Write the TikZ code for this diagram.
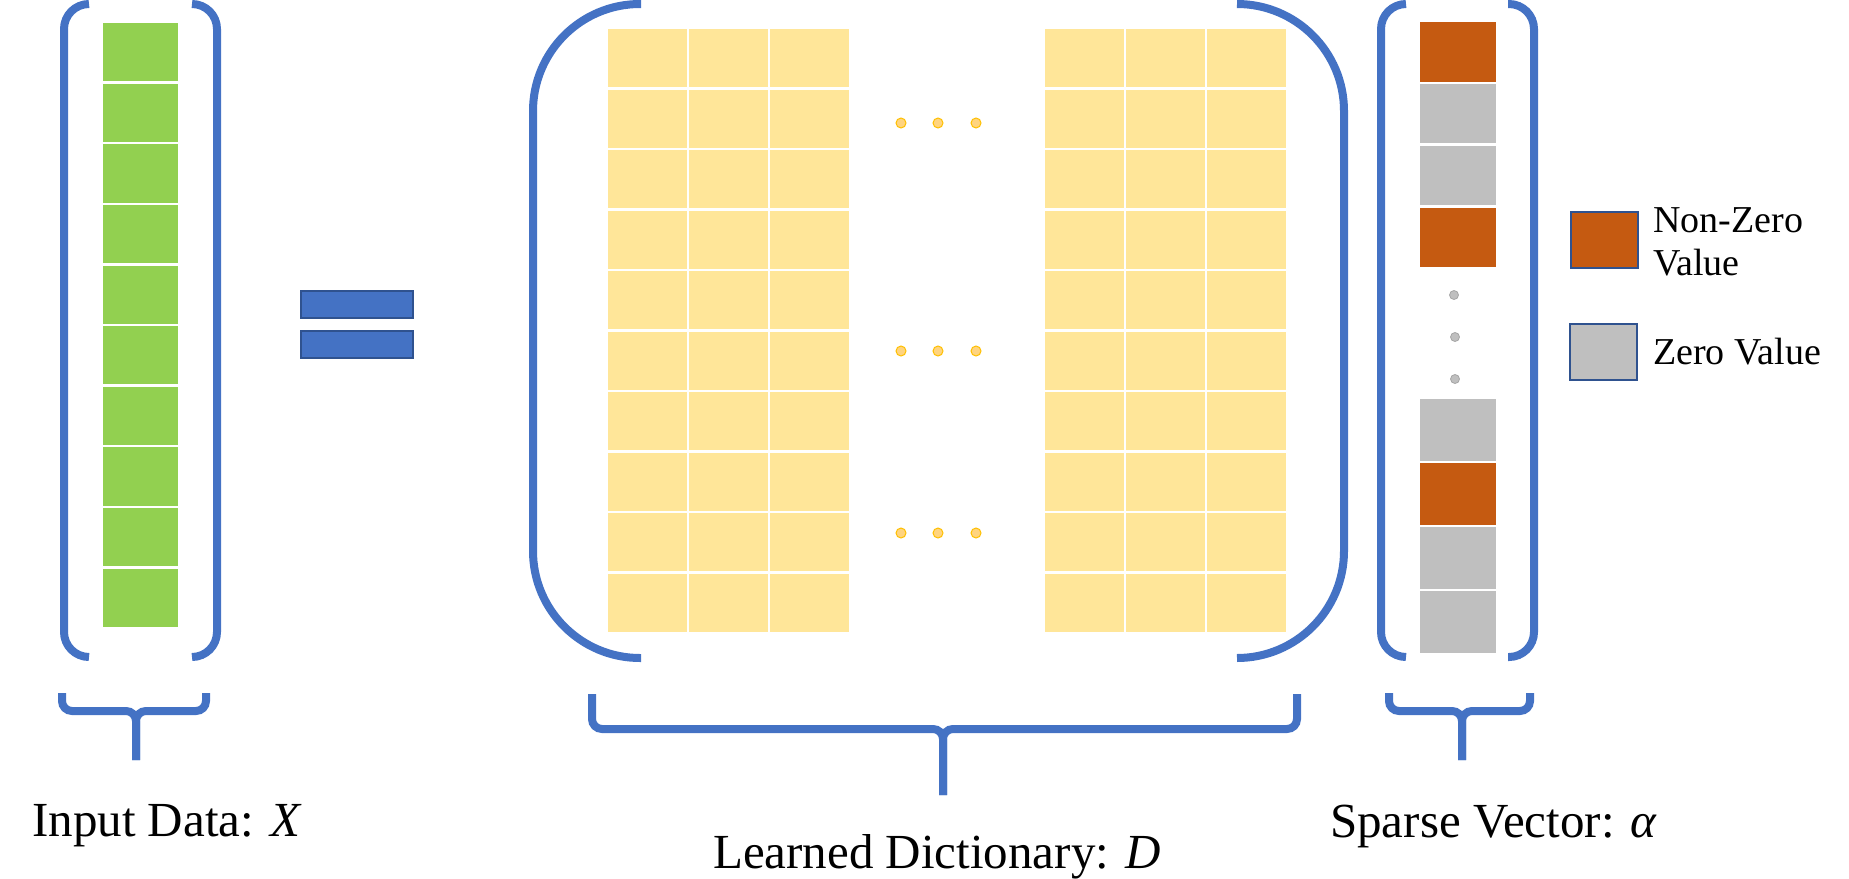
\documentclass[tikz,border=0pt]{standalone}
\usepackage{fontspec}
\setmainfont{Liberation Serif}
\definecolor{brk}{HTML}{4472C4}
\definecolor{brkdark}{HTML}{2F528F}
\definecolor{greencell}{HTML}{92D050}
\definecolor{yellowcell}{HTML}{FFE699}
\definecolor{orangecell}{HTML}{C55A11}
\definecolor{graycell}{HTML}{BFBFBF}
\definecolor{graydot}{HTML}{A6A6A6}
\definecolor{yeldot}{HTML}{FFD47F}
\definecolor{yeldotb}{HTML}{FFC000}
\tikzset{
  bracket/.style={draw=brk, line width=8pt},
  ubrace/.style={draw=brk, line width=8pt, rounded corners=10pt},
  cellg/.style={fill=greencell, draw=white, line width=2.5pt},
  celly/.style={fill=yellowcell, draw=white, line width=2.5pt},
  cello/.style={fill=orangecell, draw=white, line width=2.5pt},
  cellz/.style={fill=graycell, draw=white, line width=2.5pt},
  lego/.style={fill=orangecell, draw=brkdark, line width=1.8pt},
  legz/.style={fill=graycell, draw=brkdark, line width=1.8pt},
  gdot/.style={circle, fill=graycell, draw=graydot, line width=0.8pt, inner sep=0pt, minimum size=9pt},
  ydot/.style={circle, fill=yeldot, draw=yeldotb, line width=1pt, inner sep=0pt, minimum size=10pt},
  lbl/.style={font=\fontsize{49}{58}\selectfont, inner sep=0pt, anchor=base west},
  leg/.style={font=\fontsize{38}{44}\selectfont, inner sep=0pt, anchor=base west},
  eqbar/.style={fill=brk, draw=brkdark, line width=1.5pt}
}
\begin{document}
\begin{tikzpicture}[x=1pt, y=-1pt]
\useasboundingbox (0,0) rectangle (1849,878);
% ---------- input column ----------
\foreach \i in {0,...,9} {
  \path[cellg] (102,{22+60.6*\i}) rectangle (179,{22+60.6*(\i+1)});
}
\draw[bracket, rounded corners=25pt] (89,4) -- (64,4) -- (64,657) -- (89,657);
\draw[bracket, rounded corners=25pt] (192,4) -- (217,4) -- (217,657) -- (192,657);
% ---------- equals sign ----------
\path[eqbar] (301,291) rectangle (413,318);
\path[eqbar] (301,331) rectangle (413,358);
% ---------- dictionary ----------
\foreach \bx in {607,1044} {
  \foreach \c in {0,1,2} {
    \foreach \r in {0,...,9} {
      \path[celly] ({\bx+81*\c},{28+60.5*\r}) rectangle ({\bx+81*(\c+1)},{28+60.5*(\r+1)});
    }
  }
}
\draw[bracket, rounded corners=107pt] (641,4) -- (533,4) -- (533,658) -- (641,658);
\draw[bracket, rounded corners=107pt] (1237,4) -- (1344,4) -- (1344,658) -- (1237,658);
\foreach \yy [count=\k] in {123,351,533} {
  \node[ydot] (dA\k) at (901,\yy) {};
  \node[ydot] (dB\k) at (938,\yy) {};
  \node[ydot] (dC\k) at (976,\yy) {};
}
% ---------- sparse vector ----------
\path[cello] (1419,21) rectangle (1497,82.75);
\path[cellz] (1419,82.75) rectangle (1497,144.5);
\path[cellz] (1419,144.5) rectangle (1497,206.25);
\path[cello] (1419,206.25) rectangle (1497,268);
\path[cellz] (1419,398) rectangle (1497,462);
\path[cello] (1419,462) rectangle (1497,526);
\path[cellz] (1419,526) rectangle (1497,590);
\path[cellz] (1419,590) rectangle (1497,654);
\node[gdot] (s1) at (1454,295) {};
\node[gdot] (s2) at (1455,337) {};
\node[gdot] (s3) at (1455,379) {};
\draw[bracket, rounded corners=25pt] (1406,4) -- (1381,4) -- (1381,657) -- (1406,657);
\draw[bracket, rounded corners=25pt] (1508,4) -- (1534,4) -- (1534,657) -- (1508,657);
% ---------- legend ----------
\path[lego] (1571,212) rectangle (1638,268);
\path[legz] (1570,324) rectangle (1637,380);
\node[leg] (l1) at (1653,232) {Non-Zero};
\node[leg] (l2) at (1653,275) {Value};
\node[leg] (l3) at (1653,364) {Zero Value};
% ---------- under braces ----------
\draw[ubrace] (62,693) -- (62,711) -- (136,711) -- (136,760);
\draw[ubrace] (206,693) -- (206,711) -- (136,711) -- (136,760);
\draw[ubrace] (592,694) -- (592,729) -- (943,729) -- (943,795);
\draw[ubrace] (1297,694) -- (1297,729) -- (943,729) -- (943,795);
\draw[ubrace] (1389,693) -- (1389,711) -- (1462,711) -- (1462,760);
\draw[ubrace] (1530,693) -- (1530,711) -- (1462,711) -- (1462,760);
% ---------- labels ----------
\node[lbl] (tX) at (32,836) {Input Data: \textit{X}};
\node[lbl] (tD) at (713,868) {Learned Dictionary: \textit{D}};
\node[lbl] (tA) at (1330,837) {Sparse Vector: \textit{α}};
\end{tikzpicture}
\end{document}
